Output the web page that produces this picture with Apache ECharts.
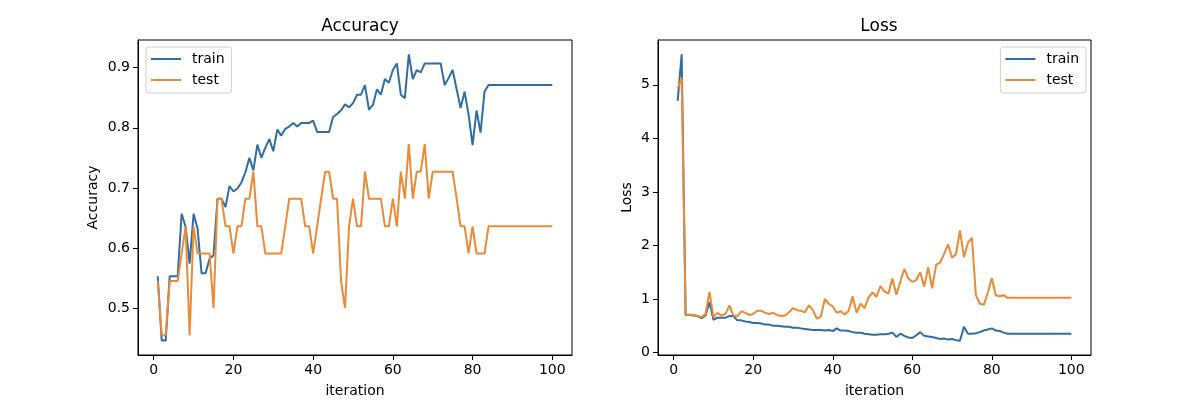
<!DOCTYPE html>
<html>
<head>
<meta charset="utf-8">
<style>
  html, body { margin: 0; padding: 0; background: #fff; }
  #chart { width: 1200px; height: 403px; }
</style>
</head>
<body>
<div id="chart"></div>
<script src="https://cdn.jsdelivr.net/npm/echarts@6/dist/echarts.min.js"></script>
<script type="text/javascript">
    // values, one per iteration (1..100)
    const accTrain = [
        0.553, 0.446, 0.446, 0.553, 0.553, 0.553, 0.657, 0.635, 0.574, 0.657,
        0.632, 0.558, 0.558, 0.582, 0.588, 0.682, 0.682, 0.668, 0.703, 0.694,
        0.699, 0.709, 0.726, 0.750, 0.729, 0.772, 0.750, 0.767, 0.781, 0.761,
        0.797, 0.787, 0.798, 0.802, 0.808, 0.802, 0.808, 0.808, 0.808, 0.812,
        0.793, 0.793, 0.793, 0.793, 0.818, 0.823, 0.829, 0.839, 0.834, 0.841,
        0.855, 0.855, 0.871, 0.830, 0.838, 0.864, 0.855, 0.881, 0.875, 0.896,
        0.907, 0.855, 0.849, 0.922, 0.881, 0.896, 0.892, 0.907, 0.907, 0.907,
        0.907, 0.907, 0.871, 0.883, 0.896, 0.864, 0.833, 0.860, 0.822, 0.771,
        0.829, 0.792, 0.860, 0.871, 0.871, 0.871, 0.871, 0.871, 0.871, 0.871,
        0.871, 0.871, 0.871, 0.871, 0.871, 0.871, 0.871, 0.871, 0.871, 0.871
    ];
    const accTest = [
        0.545, 0.455, 0.455, 0.545, 0.545, 0.545, 0.591, 0.636, 0.455, 0.636,
        0.591, 0.591, 0.591, 0.591, 0.500, 0.682, 0.682, 0.636, 0.636, 0.591,
        0.636, 0.636, 0.682, 0.682, 0.727, 0.636, 0.636, 0.591, 0.591, 0.591,
        0.591, 0.591, 0.636, 0.682, 0.682, 0.682, 0.682, 0.636, 0.636, 0.591,
        0.636, 0.682, 0.727, 0.727, 0.682, 0.682, 0.545, 0.500, 0.636, 0.682,
        0.636, 0.636, 0.727, 0.682, 0.682, 0.682, 0.682, 0.636, 0.636, 0.682,
        0.636, 0.727, 0.682, 0.773, 0.682, 0.727, 0.727, 0.773, 0.682, 0.727,
        0.727, 0.727, 0.727, 0.727, 0.727, 0.682, 0.636, 0.636, 0.591, 0.636,
        0.591, 0.591, 0.591, 0.636, 0.636, 0.636, 0.636, 0.636, 0.636, 0.636,
        0.636, 0.636, 0.636, 0.636, 0.636, 0.636, 0.636, 0.636, 0.636, 0.636
    ];
    const lossTrain = [
        4.70, 5.57, 0.70, 0.70, 0.69, 0.68, 0.64, 0.69, 0.94, 0.61,
        0.65, 0.65, 0.65, 0.68, 0.68, 0.60, 0.60, 0.58, 0.57, 0.55,
        0.55, 0.54, 0.52, 0.52, 0.50, 0.50, 0.49, 0.48, 0.48, 0.46,
        0.46, 0.45, 0.44, 0.43, 0.42, 0.42, 0.42, 0.41, 0.42, 0.40,
        0.45, 0.41, 0.41, 0.40, 0.38, 0.37, 0.37, 0.35, 0.34, 0.33,
        0.33, 0.34, 0.34, 0.35, 0.37, 0.29, 0.35, 0.31, 0.28, 0.27,
        0.32, 0.38, 0.31, 0.30, 0.29, 0.27, 0.25, 0.26, 0.24, 0.25,
        0.23, 0.22, 0.48, 0.35, 0.35, 0.36, 0.38, 0.41, 0.43, 0.45,
        0.41, 0.40, 0.37, 0.35, 0.35, 0.35, 0.35, 0.35, 0.35, 0.35,
        0.35, 0.35, 0.35, 0.35, 0.35, 0.35, 0.35, 0.35, 0.35, 0.35
    ];
    const lossTest = [
        4.93, 5.13, 0.70, 0.71, 0.70, 0.68, 0.66, 0.72, 1.13, 0.66,
        0.74, 0.69, 0.72, 0.88, 0.69, 0.67, 0.77, 0.74, 0.70, 0.72,
        0.78, 0.78, 0.74, 0.72, 0.74, 0.70, 0.68, 0.69, 0.75, 0.83,
        0.79, 0.78, 0.75, 0.88, 0.79, 0.63, 0.67, 1.00, 0.91, 0.86,
        0.74, 0.77, 0.71, 0.78, 1.05, 0.74, 0.91, 0.83, 1.03, 1.12,
        1.04, 1.24, 1.14, 1.10, 1.38, 1.08, 1.32, 1.56, 1.38, 1.32,
        1.35, 1.50, 1.23, 1.59, 1.20, 1.64, 1.68, 1.84, 2.02, 1.77,
        1.84, 2.28, 1.78, 2.05, 2.14, 1.07, 0.91, 0.89, 1.12, 1.39,
        1.07, 1.05, 1.07, 1.02, 1.02, 1.02, 1.02, 1.02, 1.02, 1.02,
        1.02, 1.02, 1.02, 1.02, 1.02, 1.02, 1.02, 1.02, 1.02, 1.02
    ];
    const xTicks = [0, 20, 40, 60, 80, 100];
    const accTicks = [0.5, 0.6, 0.7, 0.8, 0.9];
    const lossTicks = [0, 1, 2, 3, 4, 5];

    const FONT = 'DejaVu Sans';
    const BLUE = '#2f6da4';
    const ORANGE = '#ec8a37';

    // iteration number paired with each value
    const pairs = arr => arr.map((v, i) => [i + 1, v]);

    function xAxisFor(idx) {
        return {
            type: 'value', gridIndex: idx, min: -3.95, max: 104.95,
            name: 'iteration', nameLocation: 'middle', nameGap: 29,
            nameTextStyle: { fontFamily: FONT, fontSize: 14, color: '#000' },
            axisLine: { show: true, onZero: false, lineStyle: { color: '#000', width: 1 } },
            axisTick: { show: true, length: 5, customValues: xTicks, lineStyle: { color: '#000' } },
            axisLabel: { customValues: xTicks, margin: 8, fontFamily: FONT, fontSize: 14, color: '#000' },
            splitLine: { show: false }
        };
    }

    function yAxisFor(idx, name, lo, hi, ticks, gap, fmt) {
        return {
            type: 'value', gridIndex: idx, min: lo, max: hi,
            name: name, nameLocation: 'middle', nameGap: gap, nameRotate: 90,
            nameTextStyle: { fontFamily: FONT, fontSize: 14, color: '#000' },
            axisLine: { show: true, onZero: false, lineStyle: { color: '#000', width: 1 } },
            axisTick: { show: true, length: 5, customValues: ticks, lineStyle: { color: '#000' } },
            axisLabel: { customValues: ticks, margin: 8, fontFamily: FONT, fontSize: 14, color: '#000', formatter: fmt },
            splitLine: { show: false }
        };
    }

    function legendFor(pos) {
        return Object.assign({
            top: 47,
            orient: 'vertical',
            data: ['train', 'test'],
            icon: 'rect',
            itemWidth: 30,
            itemHeight: 2,
            itemGap: 7,
            padding: [5, 7, 6, 5],
            borderColor: '#d0d0d0',
            borderWidth: 1,
            borderRadius: 3,
            backgroundColor: 'rgba(255,255,255,0.8)',
            selectedMode: false,
            textStyle: { fontFamily: FONT, fontSize: 14, color: '#000', lineHeight: 14, padding: [0, 0, 0, 6] }
        }, pos);
    }

    function line(name, data, color, idx) {
        return {
            name: name, type: 'line', data: data,
            xAxisIndex: idx, yAxisIndex: idx,
            showSymbol: false, symbol: 'none',
            color: color,
            lineStyle: { color: color, width: 2 },
            emphasis: { disabled: true }
        };
    }

    const myChart = echarts.init(document.getElementById('chart'));

    const option = {
        animation: false,
        backgroundColor: '#fff',
        title: [
            { text: 'Accuracy', left: 355, top: 13, textAlign: 'center',
              textStyle: { fontFamily: FONT, fontSize: 17, fontWeight: 'normal', color: '#000' } },
            { text: 'Loss', left: 874, top: 13, textAlign: 'center',
              textStyle: { fontFamily: FONT, fontSize: 17, fontWeight: 'normal', color: '#000' } }
        ],
        grid: [
            { left: 138, width: 434, top: 40, height: 315, show: true, borderColor: '#000', borderWidth: 1, containLabel: false },
            { left: 658, width: 433, top: 40, height: 315, show: true, borderColor: '#000', borderWidth: 1, containLabel: false }
        ],
        legend: [
            legendFor({ left: 146 }),
            legendFor({ right: 114 })
        ],
        xAxis: [xAxisFor(0), xAxisFor(1)],
        yAxis: [
            yAxisFor(0, 'Accuracy', 0.422, 0.946, accTicks, 38, v => v.toFixed(1)),
            yAxisFor(1, 'Loss', -0.0475, 5.8375, lossTicks, 24, v => String(Math.round(v)))
        ],
        series: [
            line('train', pairs(accTrain), BLUE, 0),
            line('test', pairs(accTest), ORANGE, 0),
            line('train', pairs(lossTrain), BLUE, 1),
            line('test', pairs(lossTest), ORANGE, 1)
        ]
    };

    myChart.setOption(option);
</script>
</body>
</html>
